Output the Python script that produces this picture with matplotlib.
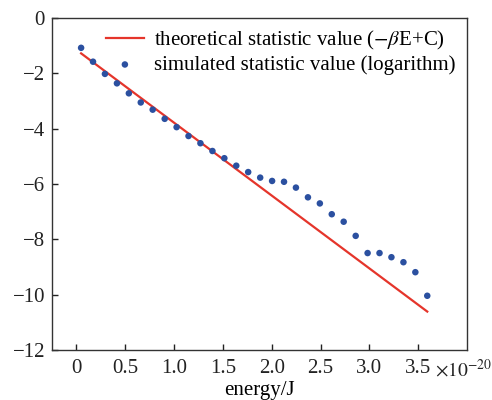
import matplotlib
matplotlib.use("Agg")
import matplotlib.pyplot as plt

plt.rcParams['font.family'] = ['Liberation Serif', 'DejaVu Serif']
plt.rcParams['mathtext.fontset'] = 'stix'

# energy in units of 1e-20 J
energy = [0.048, 0.170, 0.292, 0.415, 0.537, 0.659, 0.781, 0.904, 1.026, 1.148,
          1.270, 1.393, 1.515, 1.637, 1.759, 1.882, 2.004, 2.126, 2.248, 2.371,
          2.493, 2.615, 2.737, 2.860, 2.982, 3.104, 3.226, 3.349, 3.471, 3.593]
simulated = [-1.09, -1.59, -2.03, -2.37, -2.73, -3.06, -3.32, -3.65, -3.95, -4.27,
             -4.53, -4.81, -5.07, -5.34, -5.57, -5.77, -5.89, -5.92, -6.13, -6.48,
             -6.70, -7.09, -7.36, -7.87, -8.49, -8.49, -8.64, -8.82, -9.18, -10.03]
theory_x = [0.048, 3.593]
theory_y = [-1.29, -10.60]

xticks = [0, 0.5, 1.0, 1.5, 2.0, 2.5, 3.0, 3.5]
xticklabels = ['0', '0.5', '1.0', '1.5', '2.0', '2.5', '3.0', '3.5']
yticks = [0, -2, -4, -6, -8, -10, -12]

fs = 15

fig = plt.figure(figsize=(4.92, 4.00), dpi=100)
ax = fig.add_axes([0.1057, 0.124, 0.8435, 0.832])

ax.plot(theory_x, theory_y, color='#e5352b', lw=1.6,
        label=r'theoretical statistic value ($-\beta$E+C)')
ax.scatter(energy, simulated, s=22, color='#2b50a0', edgecolors='none',
           label='simulated statistic value (logarithm)', zorder=3)

ax.set_xlim(-0.25, 4.0)
ax.set_ylim(-12, 0)
ax.set_xticks(xticks)
ax.set_xticklabels(xticklabels)
ax.set_yticks(yticks)
ax.set_yticklabels([str(t).replace('-', '\u2212') for t in yticks])
ax.tick_params(direction='in', length=4, width=1, labelsize=fs, colors='#222222')
ax.tick_params(axis='x', pad=6)
ax.tick_params(axis='y', pad=5)
for s in ax.spines.values():
    s.set_linewidth(1.0)
    s.set_color('#333333')

ax.text(0.922, -0.058, r'$\times10^{-20}$', transform=ax.transAxes,
        fontsize=14, ha='left', va='center', color='#222222')
ax.set_xlabel('energy/J', fontsize=fs, labelpad=2)

ax.legend(loc='upper right', frameon=False, fontsize=fs, handlelength=1.8,
          handletextpad=0.5, labelspacing=0.15, borderaxespad=0.25,
          borderpad=0.3, bbox_to_anchor=(1.0, 1.0))

fig.savefig('out.png', dpi=100)
